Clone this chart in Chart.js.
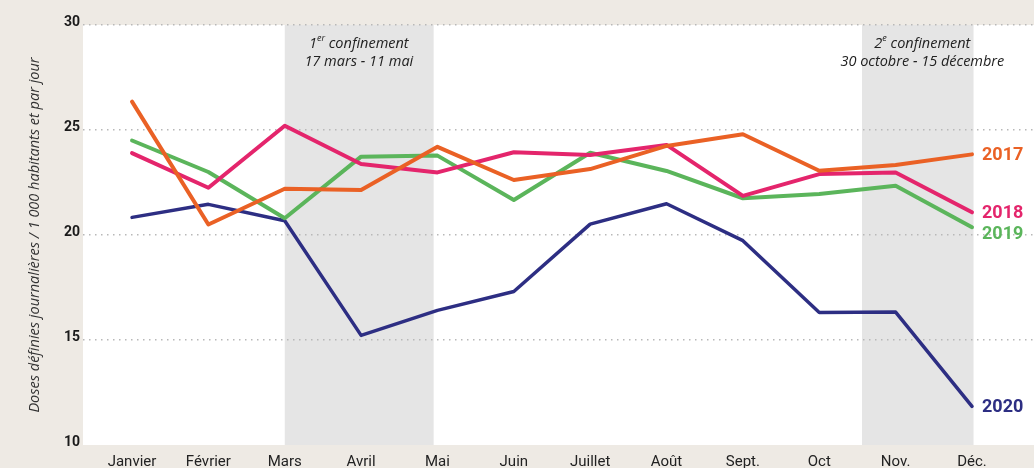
<!DOCTYPE html>
<html><head><meta charset="utf-8">
<script src="https://cdn.jsdelivr.net/npm/chart.js@4/dist/chart.umd.min.js"></script>
<style>html,body{margin:0;padding:0;background:#eeeae4;}canvas{display:block;}</style>
</head><body>
<canvas id="c" width="1034" height="468"></canvas>
<script>
const months = ['Janvier','Février','Mars','Avril','Mai','Juin','Juillet','Août','Sept.','Oct','Nov.','Déc.'];
const yTicks = [10, 15, 20, 25, 30];
const years = ['2017','2018','2019','2020'];
const v2017 = [26.35, 20.5, 22.2, 22.14, 24.2, 22.62, 23.14, 24.24, 24.8, 23.06, 23.33, 23.84];
const v2018 = [23.9, 22.25, 25.2, 23.38, 22.98, 23.94, 23.81, 24.29, 21.86, 22.9, 22.98, 21.08];
const v2019 = [24.5, 23.0, 20.8, 23.73, 23.78, 21.67, 23.92, 23.05, 21.75, 21.95, 22.35, 20.37];
const v2020 = [20.84, 21.46, 20.68, 15.22, 16.41, 17.31, 20.52, 21.49, 19.73, 16.31, 16.33, 11.84];
const lockdowns = [
  {from: 2.0, to: 3.95, num: '1', sup: 'er', line1: ' confinement', line2: '17 mars - 11 mai', at: 2.97},
  {from: 9.56, to: 11.02, num: '2', sup: 'e', line1: ' confinement', line2: '30 octobre - 15 décembre', at: 10.35}
];
const colors = ['#ea6125', '#e4256c', '#5bb55b', '#2d2e83'];
const labelShift = [0, 0, 6, 0];

const seriesVals = [v2017, v2018, v2019, v2020];
const datasets = seriesVals.map((vals, k) => ({
  label: years[k],
  data: vals.map((v, i) => ({x: i, y: v})),
  borderColor: colors[k],
  borderWidth: k === 3 ? 3.5 : 4,
  pointRadius: 0,
  tension: 0,
  borderCapStyle: 'round',
  borderJoinStyle: 'round',
  fill: false
}));

const deco = {
  id: 'deco',
  beforeDraw(chart) {
    const {ctx, chartArea: a, scales: {x}} = chart;
    ctx.save();
    ctx.fillStyle = '#eeeae4';
    ctx.fillRect(0, 0, chart.width, chart.height);
    ctx.fillStyle = '#ffffff';
    ctx.fillRect(a.left, a.top, a.right - a.left, a.bottom - a.top);
    ctx.fillStyle = '#e5e5e5';
    lockdowns.forEach(l => {
      const x0 = x.getPixelForValue(l.from), x1 = x.getPixelForValue(l.to);
      ctx.fillRect(x0, a.top, x1 - x0, a.bottom - a.top);
    });
    ctx.restore();
  },
  afterDraw(chart) {
    const {ctx, scales: {x, y}} = chart;
    ctx.save();
    const big = 'italic 14.5px "Open Sans"', small = 'italic 9px "Open Sans"';
    ctx.fillStyle = '#222';
    ctx.textBaseline = 'middle';
    lockdowns.forEach(l => {
      const cx = x.getPixelForValue(l.at);
      ctx.font = big;
      const wNum = ctx.measureText(l.num).width;
      const wRest = ctx.measureText(l.line1).width;
      ctx.font = small;
      const wSup = ctx.measureText(l.sup).width;
      let sx = cx - (wNum + wSup + wRest) / 2;
      ctx.textAlign = 'left';
      ctx.font = big;
      ctx.fillText(l.num, sx, 44);
      ctx.font = small;
      ctx.fillText(l.sup, sx + wNum, 38);
      ctx.font = big;
      ctx.fillText(l.line1, sx + wNum + wSup, 44);
      ctx.textAlign = 'center';
      ctx.fillText(l.line2, cx, 62);
    });
    ctx.font = 'bold 18px Roboto';
    ctx.textAlign = 'left';
    ctx.textBaseline = 'middle';
    seriesVals.forEach((vals, k) => {
      const last = vals.length - 1;
      ctx.fillStyle = colors[k];
      ctx.fillText(years[k], x.getPixelForValue(last) + 10, y.getPixelForValue(vals[last]) + labelShift[k] + 1);
    });
    ctx.restore();
  }
};

new Chart(document.getElementById('c'), {
  type: 'line',
  data: {datasets},
  options: {
    responsive: false,
    animation: false,
    devicePixelRatio: 1,
    layout: {padding: {top: 25, right: 0, left: 0, bottom: 0}},
    plugins: {legend: {display: false}, tooltip: {enabled: false}},
    scales: {
      x: {
        type: 'linear',
        min: -0.642,
        max: 11.812,
        afterBuildTicks: s => { s.ticks = months.map((m, i) => ({value: i})); },
        afterFit: s => { s.height = 23; },
        grid: {display: false, drawTicks: false},
        border: {display: false},
        ticks: {
          callback: v => months[v],
          padding: 8,
          maxRotation: 0,
          autoSkip: false,
          color: '#222',
          font: {family: 'Roboto', size: 15}
        }
      },
      y: {
        min: 10,
        max: 30,
        afterBuildTicks: s => { s.ticks = yTicks.map(v => ({value: v})); },
        afterFit: s => { s.width = 83; },
        grid: {
          drawTicks: false,
          color: c => c.tick && c.tick.value === 10 ? 'rgba(0,0,0,0)' : '#b8b8b8',
          lineWidth: 1.5
        },
        border: {display: false, dash: [1.5, 4.5]},
        ticks: {
          padding: 3,
          labelOffset: -3,
          color: '#1a1a1a',
          font: {family: 'Roboto', size: 14, weight: 'bold'}
        },
        title: {
          display: true,
          text: 'Doses définies journalières / 1 000 habitants et par jour',
          color: '#333',
          font: {family: 'Open Sans', size: 14.5, style: 'italic'},
          padding: {top: 26, bottom: 0}
        }
      }
    }
  },
  plugins: [deco]
});
</script>
</body></html>
